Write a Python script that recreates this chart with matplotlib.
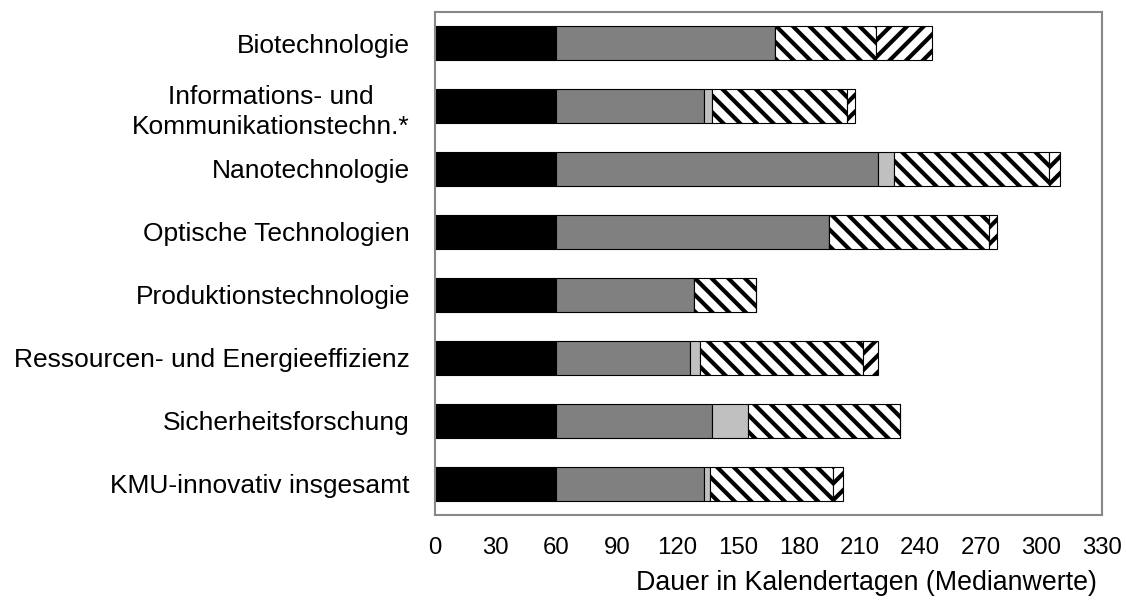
import matplotlib.pyplot as plt
import numpy as np

plt.rcParams['font.family'] = ['Liberation Sans', 'DejaVu Sans']
plt.rcParams['hatch.linewidth'] = 3.0

categories = ["Biotechnologie",
              "Informations- und\nKommunikationstechn.*",
              "Nanotechnologie",
              "Optische Technologien",
              "Produktionstechnologie",
              "Ressourcen- und Energieeffizienz",
              "Sicherheitsforschung",
              "KMU-innovativ insgesamt"]

# Dauer der Phasen (Kalendertage, Medianwerte)
phase1 = [60, 60, 60, 60, 60, 60, 60, 60]
phase2 = [108, 73, 159, 135, 68, 66, 77, 73]
phase3 = [0, 4, 8, 0, 0, 5, 18, 3]
phase4 = [50, 67, 77, 79, 31, 81, 75, 61]
phase5 = [28, 4, 5, 4, 0, 7, 0, 5]

xticks = list(range(0, 331, 30))

fig = plt.figure(figsize=(11.26, 6), dpi=100)
ax = fig.add_axes([0.3863, 0.1417, 0.5924, 0.8388])

y = np.arange(len(categories))
h = 0.54
left = np.zeros(len(categories))
styles = [("#000000", None), ("#808080", None), ("#c0c0c0", None),
          ("#ffffff", "\\\\"), ("#ffffff", "//")]
for vals, (col, hat) in zip([phase1, phase2, phase3, phase4, phase5], styles):
    v = np.array(vals, dtype=float)
    ax.barh(y, v, left=left, height=h, color=col, hatch=hat,
            edgecolor="black", linewidth=0.8)
    left += v

ax.set_ylim(len(categories) - 0.5, -0.5)
ax.set_xlim(0, 330)
ax.set_xticks(xticks)
ax.set_yticks(y)
ax.set_yticklabels(categories, multialignment="center", linespacing=1.35)
ax.tick_params(axis="y", length=0, labelsize=19, pad=18)
ax.tick_params(axis="x", length=0, labelsize=17.3, pad=16)
for s in ax.spines.values():
    s.set_color("#888888")
    s.set_linewidth(1.5)
ax.set_xlabel("Dauer in Kalendertagen (Medianwerte)", fontsize=19.3, labelpad=8,
              ha="right", x=0.9925)

fig.savefig("out.png", dpi=100)
